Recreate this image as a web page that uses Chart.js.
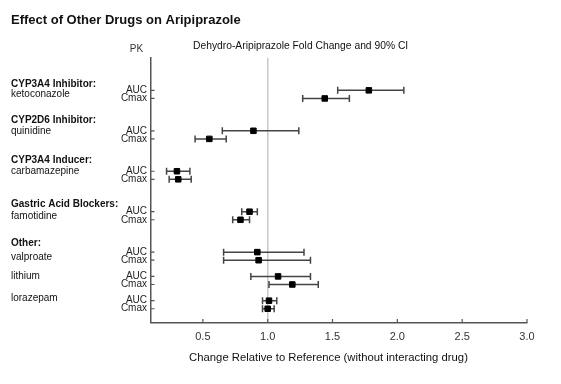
<!DOCTYPE html>
<html>
<head>
<meta charset="utf-8">
<script src="https://cdn.jsdelivr.net/npm/chart.js@4"></script>
<style>
html,body{margin:0;padding:0;background:#fff;}
#wrap{position:relative;width:561px;height:384px;}
</style>
</head>
<body>
<div id="wrap"><canvas id="c" width="561" height="384"></canvas></div>
<script>
// ---- data ----
const drugNames = ['ketoconazole','quinidine','carbamazepine','famotidine','valproate','lithium','lorazepam'];
const groupNames = ['CYP3A4 Inhibitor:','CYP2D6 Inhibitor:','CYP3A4 Inducer:','Gastric Acid Blockers:','Other:'];
const pkParams = ['AUC','Cmax','AUC','Cmax','AUC','Cmax','AUC','Cmax','AUC','Cmax','AUC','Cmax','AUC','Cmax'];
const rowSlots = [4,5, 9,10, 14,15, 19,20, 24,25, 27,28, 30,31];
const foldChange = [1.78,1.44, 0.89,0.55, 0.30,0.31, 0.86,0.79, 0.92,0.93, 1.08,1.19, 1.01,1.00];
const ciLow      = [1.54,1.27, 0.65,0.44, 0.22,0.24, 0.80,0.73, 0.66,0.66, 0.87,1.01, 0.96,0.96];
const ciHigh     = [2.05,1.63, 1.24,0.68, 0.40,0.41, 0.92,0.86, 1.28,1.33, 1.33,1.39, 1.07,1.05];
const xTickValues = [0.5,1.0,1.5,2.0,2.5,3.0];

const FONT = "'Liberation Sans', Arial, sans-serif";
Chart.defaults.font.family = FONT;

// layout of the free text (row units of the y scale)
const groupHeaderRows = [3.3, 7.7, 12.7, 18.1, 22.9];
const drugNameRows = [4.45, 9.0, 14.0, 19.6, 24.6, 27.0, 29.7];

const ciSets = foldChange.map((_, i) => ({
  type: 'line',
  data: [{x: ciLow[i], y: rowSlots[i]}, {x: ciHigh[i], y: rowSlots[i]}],
  borderColor: '#444',
  borderWidth: 1.5,
  showLine: true,
  fill: false,
  tension: 0,
  pointStyle: 'line',
  pointRotation: 90,
  pointRadius: 3.5,
  pointHoverRadius: 3.5,
  pointBorderColor: '#444',
  pointBorderWidth: 1.5,
  order: 2
}));

const estSet = {
  type: 'scatter',
  data: foldChange.map((v, i) => ({x: v, y: rowSlots[i]})),
  pointStyle: 'rect',
  pointRadius: 3.9,
  pointHoverRadius: 3.9,
  pointBackgroundColor: '#000',
  pointBorderColor: '#000',
  pointBorderWidth: 1,
  order: 1
};

const extrasPlugin = {
  id: 'extras',
  afterDraw(chart) {
    const ctx = chart.ctx;
    const xs = chart.scales.x, ys = chart.scales.y;
    ctx.save();
    // inward tick marks
    ctx.strokeStyle = '#555';
    ctx.lineWidth = 1.2;
    ctx.beginPath();
    xs.ticks.forEach(t => {
      const px = xs.getPixelForValue(t.value);
      ctx.moveTo(px, ys.bottom);
      ctx.lineTo(px, ys.bottom - 3.5);
    });
    ys.ticks.forEach(t => {
      const py = ys.getPixelForValue(t.value);
      ctx.moveTo(xs.left, py);
      ctx.lineTo(xs.left + 3.5, py);
    });
    ctx.stroke();

    // left labels
    ctx.textAlign = 'left';
    ctx.textBaseline = 'middle';
    ctx.fillStyle = '#111';
    ctx.font = 'bold 10px ' + FONT;
    groupNames.forEach((g, i) => ctx.fillText(g, 11, ys.getPixelForValue(groupHeaderRows[i])));
    ctx.font = '10px ' + FONT;
    drugNames.forEach((d, i) => ctx.fillText(d, 11, ys.getPixelForValue(drugNameRows[i])));

    // headers
    ctx.fillStyle = '#333';
    ctx.textAlign = 'center';
    ctx.fillText('PK', 136.5, 49.5);
    ctx.fillStyle = '#111';
    ctx.textAlign = 'left';
    ctx.font = '10.3px ' + FONT;
    ctx.fillText('Dehydro-Aripiprazole Fold Change and 90% CI', 193, 46.5);

    // x axis title
    ctx.textAlign = 'center';
    ctx.font = '11.3px ' + FONT;
    ctx.fillText('Change Relative to Reference (without interacting drug)', 328.5, 358);
    ctx.restore();
  }
};

new Chart(document.getElementById('c'), {
  type: 'scatter',
  data: { datasets: [...ciSets, estSet] },
  options: {
    responsive: false,
    animation: false,
    devicePixelRatio: 1,
    layout: { padding: { left: 11, right: 34, top: 0, bottom: 0 } },
    plugins: {
      legend: { display: false },
      tooltip: { enabled: false },
      title: {
        display: true,
        text: 'Effect of Other Drugs on Aripiprazole',
        align: 'start',
        color: '#111',
        font: { size: 13, weight: 'bold', family: FONT },
        padding: { top: 12.2, bottom: 30.2 }
      }
    },
    scales: {
      x: {
        type: 'linear',
        position: 'bottom',
        min: 0.1,
        max: 3.0,
        afterBuildTicks: s => { s.ticks = xTickValues.map(v => ({value: v})); },
        ticks: {
          callback: v => Number(v).toFixed(1),
          font: { size: 11 },
          color: '#333',
          padding: 8,
          autoSkip: false,
          maxRotation: 0
        },
        grid: {
          drawTicks: false,
          lineWidth: 1.5,
          color: c => (c.tick && c.tick.value === 1) ? '#c8c8c8' : 'rgba(0,0,0,0)'
        },
        border: { display: true, color: '#555', width: 1.5 },
        afterFit: s => { s.height = 61.5; }
      },
      y: {
        type: 'linear',
        min: 0,
        max: 32.7,
        reverse: true,
        afterBuildTicks: s => { s.ticks = rowSlots.map(v => ({value: v})); },
        ticks: {
          callback: (v, i) => pkParams[i],
          font: { size: 10 },
          color: '#222',
          padding: 4,
          autoSkip: false
        },
        grid: { display: false, drawTicks: false },
        border: { display: true, color: '#555', width: 1.5 },
        afterFit: s => { s.width = 140; }
      }
    }
  },
  plugins: [extrasPlugin]
});
</script>
</body>
</html>
